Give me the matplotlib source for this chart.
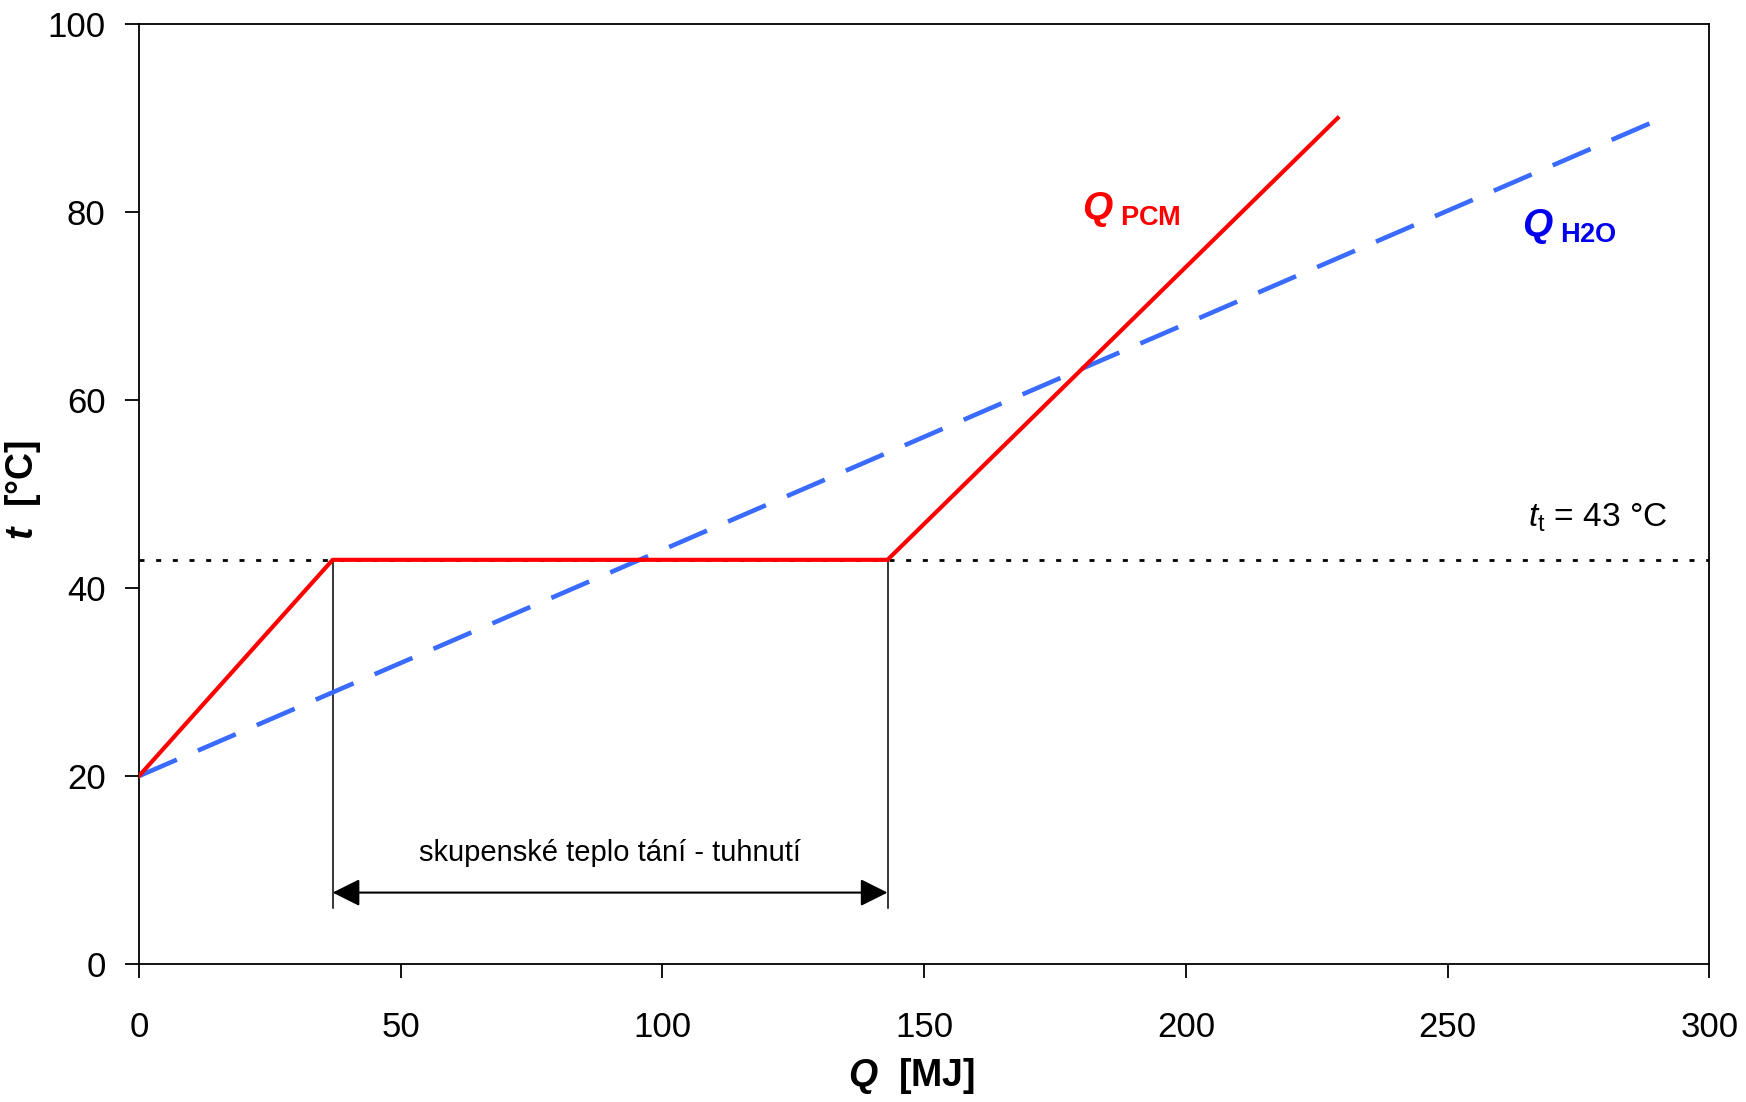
"""
Temperature vs. stored heat for PCM and water storage.
"""

import matplotlib
matplotlib.use("Agg")
import matplotlib.pyplot as plt

plt.rcParams['font.family'] = ['Liberation Sans', 'DejaVu Sans']
plt.rcParams['mathtext.fontset'] = 'custom'
plt.rcParams['mathtext.rm'] = 'Liberation Sans'
plt.rcParams['mathtext.it'] = 'Liberation Sans:italic'
plt.rcParams['mathtext.bf'] = 'Liberation Sans:bold'
plt.rcParams['mathtext.bfit'] = 'Liberation Sans:bold:italic'

# heat [MJ] / temperature [°C]
q_pcm = [0, 37, 143, 229]
t_pcm = [20, 43, 43, 90]
q_h2o = [0, 291]
t_h2o = [20, 90]
t_melt = 43
q_melt_start, q_melt_end = 37, 143

x_ticks = [0, 50, 100, 150, 200, 250, 300]
y_ticks = [0, 20, 40, 60, 80, 100]

fig = plt.figure(figsize=(17.46, 11.02), dpi=100)
ax = fig.add_axes([0.0796, 0.1252, 0.8994, 0.853])

ax.plot(q_h2o, t_h2o, color='#3a6bff', lw=3.3, linestyle=(0, (9, 5)), zorder=3)
ax.plot(q_pcm, t_pcm, color='#ff0000', lw=3.0, zorder=4)
ax.axhline(t_melt, color='black', lw=2.0, linestyle=(0, (1.8, 4.2)), zorder=2)

# melting / solidification range
for q in (q_melt_start, q_melt_end):
    ax.plot([q, q], [t_melt, 6], color='black', lw=1.1, zorder=2)
ax.annotate('', xy=(q_melt_start, 7.6), xytext=(q_melt_end, 7.6),
            arrowprops=dict(arrowstyle='<|-|>', color='black', lw=1.5,
                            mutation_scale=42, shrinkA=0, shrinkB=0))
ax.text((q_melt_start + q_melt_end) / 2, 11.8, 'skupenské teplo tání - tuhnutí',
        ha='center', va='center', fontsize=21)

ax.text(180.2, 80.3, r'$\mathbfit{Q}_{\ \mathbf{PCM}}$', color='#ff0000',
        fontsize=28, ha='left', va='center')
ax.text(264.3, 78.5, r'$\mathbfit{Q}_{\ \mathbf{H2O}}$', color='#0000ee',
        fontsize=28, ha='left', va='center')
ax.text(292, 47.5, r'$\mathit{t}_{\mathrm{t}}$ = 43 °C',
        fontsize=24, ha='right', va='center')

ax.set_xlim(0, 300)
ax.set_ylim(0, 100)
ax.set_xticks(x_ticks)
ax.set_yticks(y_ticks)
ax.tick_params(axis='both', direction='out', length=10, width=1.3, labelsize=25)
ax.tick_params(axis='x', pad=24)
ax.tick_params(axis='y', pad=14)
for s in ax.spines.values():
    s.set_linewidth(1.3)

ax.set_xlabel(r'$\mathbfit{Q}$  [MJ]', fontsize=27, fontweight='bold')
ax.set_ylabel(r'$\mathbfit{t}$  [°C]', fontsize=27, fontweight='bold')
ax.xaxis.set_label_coords(0.492, -0.098)
ax.yaxis.set_label_coords(-0.061, 0.504)

plt.savefig('out.png', dpi=100)
plt.close()
